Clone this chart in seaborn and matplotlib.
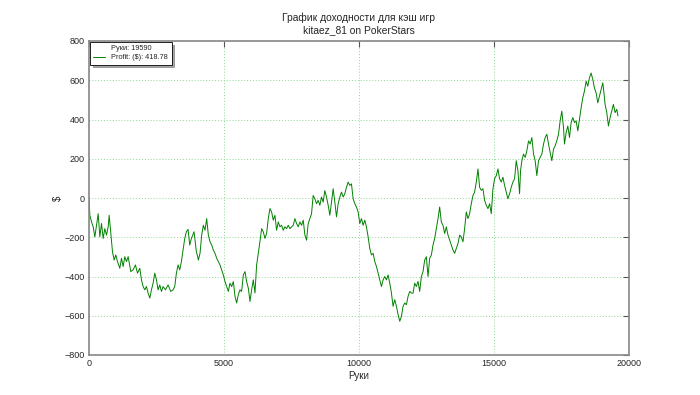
import matplotlib
matplotlib.use("Agg")
import matplotlib.pyplot as plt
from matplotlib.lines import Line2D
import seaborn as sns
import pandas as pd

# ---- data ----
hands = [0, 32, 93, 155, 217, 278, 340, 401, 463, 525, 586, 648, 710, 747, 808, 870, 932, 993, 1055,
         1141, 1203, 1265, 1326, 1388, 1450, 1548, 1635, 1721, 1795, 1881, 1943, 2004, 2066, 2128,
         2189, 2251, 2313, 2374, 2436, 2498, 2559, 2621, 2683, 2744, 2831, 2929, 3028, 3114, 3176,
         3237, 3299, 3361, 3422, 3484, 3546, 3607, 3669, 3731, 3792, 3891, 3977, 4039,
         4050, 4112, 4174, 4235, 4297, 4359, 4420, 4482, 4544, 4605, 4667, 4729, 4790, 4852, 4914,
         4975, 5037, 5099, 5160, 5222, 5283, 5345, 5407, 5468, 5530, 5592, 5653, 5715, 5777, 5838,
         5900, 5962, 6023, 6085, 6147, 6208, 6270, 6331, 6393, 6455, 6516, 6578, 6640, 6701, 6763,
         6825, 6886, 6948, 7010, 7071, 7133, 7195, 7256, 7318, 7380, 7441, 7503, 7564, 7626, 7688,
         7749, 7811, 7873, 7934, 7996, 8058,
         8118, 8180, 8242, 8303, 8365, 8427, 8488, 8550, 8612, 8673, 8735, 8797, 8858, 8920, 8981,
         9043, 9105, 9166, 9228, 9290, 9351, 9413, 9475, 9536, 9598, 9660, 9721, 9783, 9845, 9906,
         9968, 10029, 10091, 10153, 10214, 10276, 10338, 10399, 10461, 10523, 10584, 10646, 10708,
         10769, 10831, 10893, 10954, 11016, 11077, 11139, 11201, 11262, 11324, 11386, 11447, 11509,
         11571, 11632, 11694, 11756, 11817, 11879, 11940,
         12001, 12063, 12125, 12186, 12248, 12310, 12371, 12433, 12494, 12556, 12618, 12679, 12741,
         12803, 12864, 12926, 12988, 13049, 13111, 13173, 13234, 13296, 13358, 13419, 13481, 13543,
         13604, 13666, 13728, 13789, 13851, 13912, 13974, 14036, 14097, 14159, 14221, 14282, 14344,
         14406, 14467, 14529, 14591, 14652, 14714, 14776, 14837, 14899, 14961, 15022, 15084, 15146,
         15207, 15269, 15330, 15392, 15454, 15515, 15577, 15639, 15700, 15762, 15824, 15885, 15947,
         15983, 16032, 16094, 16156, 16217, 16279, 16340, 16402, 16464, 16525, 16587, 16649, 16710,
         16772, 16834, 16895, 16957, 17019, 17080, 17142, 17204, 17265, 17327, 17389, 17450, 17512,
         17574, 17611, 17672, 17734, 17796, 17857, 17919, 17981, 18042, 18104, 18165, 18227, 18289,
         18350, 18412, 18474, 18535, 18597, 18659, 18720, 18782, 18844, 18905, 18967, 19029, 19066,
         19115, 19177, 19238, 19300, 19362, 19423, 19485, 19547, 19590]

profit = [0, -88, -122, -147, -198, -139, -80, -198, -130, -206, -156, -189, -147, -88, -181, -274,
          -316, -290, -324, -358, -307, -349, -299, -324, -299, -375, -366, -341, -383, -358, -417,
          -451, -468, -451, -485, -510, -468, -434, -383, -417, -468, -443, -476, -451, -468, -443,
          -476, -468, -451, -383, -341, -366, -324, -265, -206, -172, -160, -240, -206, -172, -274,
          -307,
          -316, -282, -189, -139, -164, -105, -189, -223, -240, -265, -282, -307, -324, -341, -366,
          -392, -426, -451, -476, -434, -451, -426, -501, -535, -493, -468, -476, -392, -375, -426,
          -459, -527, -468, -417, -484, -341, -282, -223, -156, -172, -206, -181, -105, -54, -71,
          -113, -88, -164, -122, -147, -139, -164, -147, -156, -139, -156, -147, -139, -105, -130,
          -147, -122, -139, -113, -189, -215,
          -130, -105, -80, 13, -4, -29, -12, -37, 5, -21, 38, 5, -37, -88, -21,
          47, -21, -96, -29, 5, 30, 5, 22, 55, 81, 64, 72, -4, -29, -46,
          -71, -130, -105, -139, -113, -147, -198, -257, -290, -282, -324, -349, -383,
          -417, -451, -417, -400, -417, -392, -434, -484, -552, -518, -552, -594, -628,
          -603, -552, -535, -544, -501, -476, -484,
          -485, -434, -451, -425, -476, -400, -375, -316, -299, -400, -307, -291, -240,
          -206, -156, -105, -46, -122, -139, -181, -147, -189, -215, -240, -265, -282,
          -257, -232, -189, -198, -223, -156, -71, -105, -80, -29, 13, 30, 81,
          148, 55, 39, 47, -12, -37, -54, -29, -80, 47, 98, 114, 148,
          98, 81, 106, 64, 30, -4, 22, 55, 81, 98, 190, 140, 22,
          140, 190, 224, 207, 241, 291, 275, 308, 224, 190, 114, 190, 207,
          224, 275, 308, 325, 275, 232, 190, 249, 266, 291, 325, 393, 443,
          359, 275, 334, 367, 308, 384, 410, 384, 393, 342, 401, 460, 511,
          545, 595, 570, 612, 637, 604, 561, 536, 485, 519, 553, 587, 544,
          477, 435, 367, 410, 443, 477, 435, 452, 418.78]

title_text = "График доходности для кэш игр\nkitaez_81 on PokerStars"
x_label = "Руки"
y_label = "$"
legend_hands = "Руки: 19590"
legend_profit = "Profit: ($): 418.78"
x_ticks = [0, 5000, 10000, 15000, 20000]
y_ticks = [-800, -600, -400, -200, 0, 200, 400, 600, 800]

df = pd.DataFrame({"hands": hands, "profit": profit})

sns.set_style("white")
plt.rcParams["font.family"] = ["Liberation Sans", "DejaVu Sans"]

fig = plt.figure(figsize=(7.0, 3.95), dpi=100)
ax = fig.add_axes([89 / 700, 1 - 355 / 395, 540 / 700, 314 / 395])

sns.lineplot(data=df, x="hands", y="profit", ax=ax, color="#008000",
             linewidth=0.7, estimator=None, sort=False, label=legend_profit)

ax.set_xlim(0, 20000)
ax.set_ylim(-800, 800)
ax.set_xticks(x_ticks)
ax.set_yticks(y_ticks)
ax.set_xticklabels([str(t) for t in x_ticks], fontsize=6.5)
ax.set_yticklabels([f"{t}".replace("-", "\u2212") for t in y_ticks], fontsize=6.5)
ax.tick_params(direction="in", length=4, width=0.8, color="#555555",
               top=True, right=True, pad=3)
ax.grid(True, linestyle=(0, (1, 2)), color="#8fd88f", linewidth=0.7)
for s in ax.spines.values():
    s.set_color("#888888")
    s.set_linewidth(1.2)

ax.set_xlabel(x_label, fontsize=7, labelpad=2)
ax.set_ylabel(y_label, fontsize=7, labelpad=1)
ax.set_title(title_text, fontsize=7.4, pad=6)

blank = Line2D([], [], color="none")
line_handle = ax.get_lines()[0]
leg = ax.legend([blank, line_handle], [legend_hands, legend_profit],
                loc="upper left", fontsize=5.3, frameon=True, fancybox=False,
                shadow=True, borderaxespad=0.1, handlelength=1.6,
                handletextpad=0.9, borderpad=0.45, labelspacing=0.25)
leg.get_frame().set_edgecolor("black")
leg.get_frame().set_linewidth(0.6)

fig.savefig("out.png", dpi=100)
